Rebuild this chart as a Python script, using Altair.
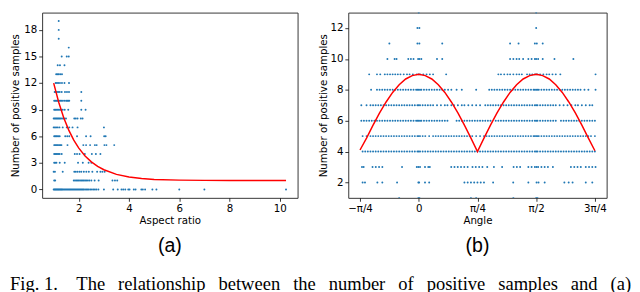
import altair as alt
import pandas as pd

# ---------------- Panel (a): aspect ratio vs number of positive samples ----------------
ar_y0 = [1.0, 1.03, 1.06, 1.09, 1.12, 1.15, 1.18, 1.21, 1.24, 1.27, 1.3, 1.33, 1.36, 1.4, 1.44,
         1.48, 1.52, 1.56, 1.6, 1.64, 1.68, 1.72, 1.76, 1.8, 1.84, 1.88, 1.92, 1.96, 2.0, 2.04,
         2.08, 2.12, 2.16, 2.2, 2.25, 2.3, 2.35, 2.4, 2.46, 2.52, 2.58, 2.64, 2.7, 2.78, 3.0,
         3.37, 3.55, 3.7, 3.77, 3.85, 3.97, 4.02, 4.19, 4.26, 4.49, 4.55, 4.64, 4.93, 5.09,
         6.0, 7.0, 10.25]
ar_y1 = [1.02, 1.06, 1.8, 1.85, 1.9, 1.95, 2.0, 2.05, 2.1, 2.15, 2.2, 2.25, 2.3, 2.36, 2.42,
         2.5, 2.63, 2.79, 3.34, 3.44, 3.53]
ar_y2 = [1.0, 1.05, 1.36, 1.82, 1.88, 1.95, 2.03, 2.1, 2.2, 2.3, 2.4, 2.54, 2.73, 2.86, 2.94, 3.03]
ar_y3 = [1.02, 1.06, 1.11, 1.24, 1.44, 1.97, 2.16, 2.39, 2.5]
ar_y4 = [1.02, 1.06, 1.1, 1.14, 1.19, 1.24, 1.32, 1.84, 1.93, 2.03, 2.24, 2.52, 2.68, 2.86]
ar_y5 = [1.02, 1.06, 1.1, 1.14, 1.18, 1.23, 1.27, 1.31, 1.55, 2.18, 2.29, 2.45, 2.64, 2.71,
         3.02, 3.1, 3.41]
ar_y6 = [1.02, 1.06, 1.1, 1.14, 1.19, 1.24, 1.46, 1.54, 1.62, 1.93, 2.29, 2.47, 3.01, 3.07]
ar_y7 = [1.0, 1.05, 1.1, 1.16, 1.23, 1.36, 1.52, 1.62, 1.75, 1.95, 3.0]
ar_y8 = [1.0, 1.04, 1.08, 1.12, 1.16, 1.2, 1.24, 1.28, 1.33, 1.38, 1.43, 1.49, 1.82, 1.88,
         1.95, 2.08, 2.15]
ar_y9 = [1.02, 1.06, 1.1, 1.15, 1.2, 1.25, 1.3, 1.36, 1.44, 1.58, 2.1, 2.27]
ar_y10 = [1.02, 1.06, 1.1, 1.14, 1.18, 1.22, 1.27, 1.32, 1.37, 1.44, 1.5, 1.54, 1.58, 1.62, 2.1]
ar_y11 = [1.04, 1.08, 1.13, 1.18, 1.24, 1.32, 1.45, 1.53, 1.61, 2.1]
ar_y12 = [1.08, 1.13, 1.18, 1.25, 1.33, 1.43, 1.61]
ar_y13 = [1.1, 1.15, 1.2, 1.26, 1.33]
ar_y14 = [1.16, 1.25, 1.43]
ar_y15 = [1.32, 1.52, 1.6]
ar_y16 = [1.6]
ar_y17 = [1.2]
ar_y18 = [1.2]
ar_y19 = [1.2]

ar_rows = [ar_y0, ar_y1, ar_y2, ar_y3, ar_y4, ar_y5, ar_y6, ar_y7, ar_y8, ar_y9, ar_y10,
           ar_y11, ar_y12, ar_y13, ar_y14, ar_y15, ar_y16, ar_y17, ar_y18, ar_y19]

ar_curve_x = [1.0, 1.2, 1.4, 1.6, 1.8, 2.0, 2.25, 2.5, 2.75, 3.0, 3.5, 4.0, 4.5, 5.0, 6.0,
              7.0, 8.0, 10.25]
ar_curve_y = [12.0, 9.83, 8.08, 6.69, 5.56, 4.66, 3.78, 3.11, 2.6, 2.22, 1.7, 1.41, 1.23,
              1.13, 1.05, 1.02, 1.0, 1.0]

ar_xticks = [2, 4, 6, 8, 10]
ar_yticks = [0, 3, 6, 9, 12, 15, 18]

# ---------------- Panel (b): angle (degrees) vs number of positive samples ----------------
an_y1 = [-15, -0.3, 0.5, 40, 44, 72.5, 90, 91]
an_y2 = [-43, -41.2, -31.7, -27.9, -16.6, -0.3, 0.3, 4.8, 8, 35, 37.5, 40, 42.5, 45, 47.5, 50,
         57, 72.4, 84, 90.3, 91.8, 96.5, 111.6, 114.9, 117.9, 128, 133]
an_y3 = [-43.5, -42.2, -35.4, -32.9, -30.4, -27.9, -12.8, -1.5, -0.3, 1, 4.8, 7.3, 8.5, 24.9,
         27.4, 29.9, 32.4, 34.9, 37.5, 41.2, 43.7, 46.3, 48.8, 52.5, 57.6, 63.9, 72.7, 75.2,
         77.7, 84, 86.5, 89, 90.3, 91.5, 94, 96.5, 99, 102.8, 116.6, 119.2, 121.7, 124.2, 128,
         130.5, 133, 135.5]
an_y4 = [-43, -41, -39, -37, -35, -33, -31, -29, -27, -25, -23, -21, -19, -17, -15, -13, -11,
         -9, -7, -5, -3, -1, 0, 1, 3, 5, 7, 9, 11, 13, 15, 17, 19, 21, 23, 25, 27, 29, 31, 33,
         35, 37, 39, 41, 43, 45, 47, 49, 51, 53, 55, 57, 59, 61, 63, 65, 67, 69, 71, 73, 75,
         77, 79, 81, 83, 85, 87, 89, 90, 91, 93, 95, 97, 99, 101, 103, 105, 107, 109, 111, 113,
         115, 117, 119, 121, 123, 125, 127, 129, 131, 133, 135]
an_y5 = [-43, -40, -37, -35, -33, -31, -29, -27, -25, -23, -21, -19, -17, -15, -13, -11, -9,
         -7, -5, -3, -1, 0, 1, 3, 5, 8, 11, 13, 15, 17, 19, 21, 23, 25, 27, 29, 31, 33, 35, 37,
         39, 41, 44, 47, 50, 52, 54, 56, 58, 60, 62, 64, 66, 68, 70, 72, 74, 76, 78, 80, 82, 84,
         86, 88, 89, 90, 91, 92, 94, 96, 98, 100, 102, 104, 106, 108, 110, 112, 114, 116, 118,
         120, 122, 124, 126, 128, 130, 132, 135]
an_y6 = [-44, -42, -40, -38, -36, -34, -32, -30, -28, -26, -24, -22, -20, -18, -16, -14, -12,
         -10, -8, -6, -4, -2, -1, 0, 1, 2, 4, 6, 8, 10, 12, 14, 16, 18, 20, 22, 29, 31, 33, 35,
         37, 39, 41, 43, 45, 47, 49, 51, 53, 55, 59, 61, 63, 65, 67, 69, 71, 73, 75, 77, 79, 81,
         83, 85, 87, 89, 90, 91, 93, 95, 97, 99, 101, 103, 105, 109, 111, 113, 115, 117, 119,
         121, 123, 125, 127, 129, 131, 133, 135]
an_y7 = [-44, -40, -37, -35, -33, -31, -29, -27, -25, -23, -21, -19, -17, -15, -13, -11, -9,
         -7, -5, -3, -1, 0, 1, 3, 5, 7, 9, 11, 14, 17, 20, 22, 25, 27, 30, 33, 35, 38, 41, 44,
         47, 51, 53, 55, 57, 59, 61, 63, 65, 67, 69, 71, 73, 75, 77, 79, 81, 83, 85, 87, 89, 90,
         91, 93, 95, 97, 99, 101, 103, 105, 108, 111, 114, 117, 120, 122, 125, 128, 131, 133]
an_y8 = [-36.5, -32, -30, -28, -26, -24, -22, -20, -18, -16, -14, -12, -10, -8, -6, -4, -2, -1,
         0, 1, 2, 4, 6, 8, 10, 12, 14, 16, 18, 20, 22.5, 25, 29, 33, 44, 54, 56, 58, 60, 62, 64,
         66, 68, 70, 72, 74, 76, 78, 80, 82, 84, 86, 88, 89, 90, 91, 92, 94, 96, 98, 100, 102,
         104, 106, 108, 110, 112, 114, 116, 118, 120, 122, 124, 127, 130, 135.5]
an_y9 = [-38, -32, -29.5, -26, -24, -22, -20, -18, -16, -14, -11.5, -9, -7, -4.5, -1.5, 0, 1,
         3.5, 6, 8.5, 11, 21, 61, 63, 65.5, 68, 70, 72.5, 75, 77, 79, 83, 85, 87, 89, 90, 91,
         93, 95.5, 98, 100, 102.5, 105, 108.5, 135.5]
an_y10 = [-24, -18.5, -17, -8, -6, -4, -0.5, 0.5, 2, 14, 18, 70, 72.5, 75, 77, 80, 84, 86.5,
          89, 90, 91.5, 95, 104, 118.5]
an_y11 = [-22.5, -1, 0.5, 18, 70, 76.5, 89, 90.5, 95]
an_y12 = [-1, 0.5, 90]
an_y13 = [0, 90]

an_rows = {1: an_y1, 2: an_y2, 3: an_y3, 4: an_y4, 5: an_y5, 6: an_y6, 7: an_y7, 8: an_y8,
           9: an_y9, 10: an_y10, 11: an_y11, 12: an_y12, 13: an_y13}

an_curve_x = [-45, -40, -35, -30, -25, -20, -15, -10, -5, 0, 5, 10, 15, 20, 25, 30, 35, 40, 45,
              50, 55, 60, 65, 70, 75, 80, 85, 90, 95, 100, 105, 110, 115, 120, 125, 130, 135]
an_curve_y = [4.1, 4.87, 5.71, 6.5, 7.21, 7.83, 8.33, 8.7, 8.92, 9.0, 8.92, 8.7, 8.33, 7.83,
              7.21, 6.5, 5.71, 4.87, 4.0, 4.87, 5.71, 6.5, 7.21, 7.83, 8.33, 8.7, 8.92, 9.0,
              8.92, 8.7, 8.33, 7.83, 7.21, 6.5, 5.71, 4.87, 4.05]

an_xticks = [-45, 0, 45, 90, 135]
an_xlabels = ["\u2212\u03c0/4", "0", "\u03c0/4", "\u03c0/2", "3\u03c0/4"]
an_yticks = [2, 4, 6, 8, 10, 12]

caption_words = ["Fig.\u00a01.", "The", "relationship", "between", "the", "number", "of",
                 "positive", "samples", "and", "(a)"]

# ---------------- tables ----------------
df_a = pd.DataFrame([{"x": x, "y": y} for y, xs in enumerate(ar_rows) for x in xs])
df_ac = pd.DataFrame({"x": ar_curve_x, "y": ar_curve_y})
df_b = pd.DataFrame([{"x": x, "y": y} for y, xs in an_rows.items() for x in xs])
df_bc = pd.DataFrame({"x": an_curve_x, "y": an_curve_y})

# justified-looking caption: widened word gaps
GAP = "\u2002\u2009"
caption = caption_words[0] + "\u2002\u2002" + GAP.join(caption_words[1:])

BLUE = "#1f77b4"
FONT = "DejaVu Sans"
YTITLE = "Number of positive samples"

label_expr = " : ".join(
    f"datum.value == {v} ? '{l}'" for v, l in zip(an_xticks, an_xlabels)
) + " : ''"

# ---------------- panel (a) ----------------
xa = alt.X("x:Q", scale=alt.Scale(domain=[0.54, 10.71], nice=False, zero=False),
           axis=alt.Axis(values=ar_xticks, title="Aspect ratio"))
ya = alt.Y("y:Q", scale=alt.Scale(domain=[-0.95, 19.95], nice=False, zero=False),
           axis=alt.Axis(values=ar_yticks, title=YTITLE, titlePadding=3.6))
pts_a = alt.Chart(df_a).mark_circle(size=4, color=BLUE, opacity=1).encode(x=xa, y=ya)
line_a = alt.Chart(df_ac).mark_line(color="#ff0000", strokeWidth=1.5).encode(x=xa, y=ya)
panel_a = alt.layer(pts_a, line_a).properties(
    width=262, height=190,
    title=alt.TitleParams("(a)", orient="bottom", fontSize=20, font="Liberation Sans",
                          fontWeight="normal", offset=11, color="black"))

# ---------------- panel (b) ----------------
xb = alt.X("x:Q", scale=alt.Scale(domain=[-54, 144], nice=False, zero=False),
           axis=alt.Axis(values=an_xticks, labelExpr=label_expr, title="Angle"))
yb = alt.Y("y:Q", scale=alt.Scale(domain=[1, 13], nice=False, zero=False),
           axis=alt.Axis(values=an_yticks, title=YTITLE, titlePadding=1))
pts_b = alt.Chart(df_b).mark_circle(size=4, color=BLUE, opacity=1, clip=True).encode(x=xb, y=yb)
line_b = alt.Chart(df_bc).mark_line(color="#ff0000", strokeWidth=1.5, clip=True).encode(
    x=xb, y=yb)
panel_b = alt.layer(pts_b, line_b).properties(
    width=265, height=190,
    title=alt.TitleParams("(b)", orient="bottom", fontSize=20, font="Liberation Sans",
                          fontWeight="normal", offset=11, color="black"))

chart = alt.hconcat(panel_a, panel_b, spacing=20).properties(
    title=alt.TitleParams(caption, orient="bottom", anchor="start", frame="bounds",
                          font="Liberation Serif", fontSize=19, fontWeight="normal",
                          color="black", offset=20)
).configure(
    padding={"left": 2, "top": 0, "right": 0, "bottom": 0}
).configure_axis(
    labelFont=FONT, titleFont=FONT, labelFontSize=10.5, titleFontSize=10.5,
    titleFontWeight="normal", labelColor="black", titleColor="black",
    tickColor="black", tickSize=3.5, tickWidth=0.8, domain=False, grid=False,
    labelPadding=2, labelOverlap=False
).configure_axisX(titlePadding=2).configure_view(
    stroke="#333333", strokeWidth=1
)

chart.save("out.html", embed_options={"renderer": "svg", "actions": False})
